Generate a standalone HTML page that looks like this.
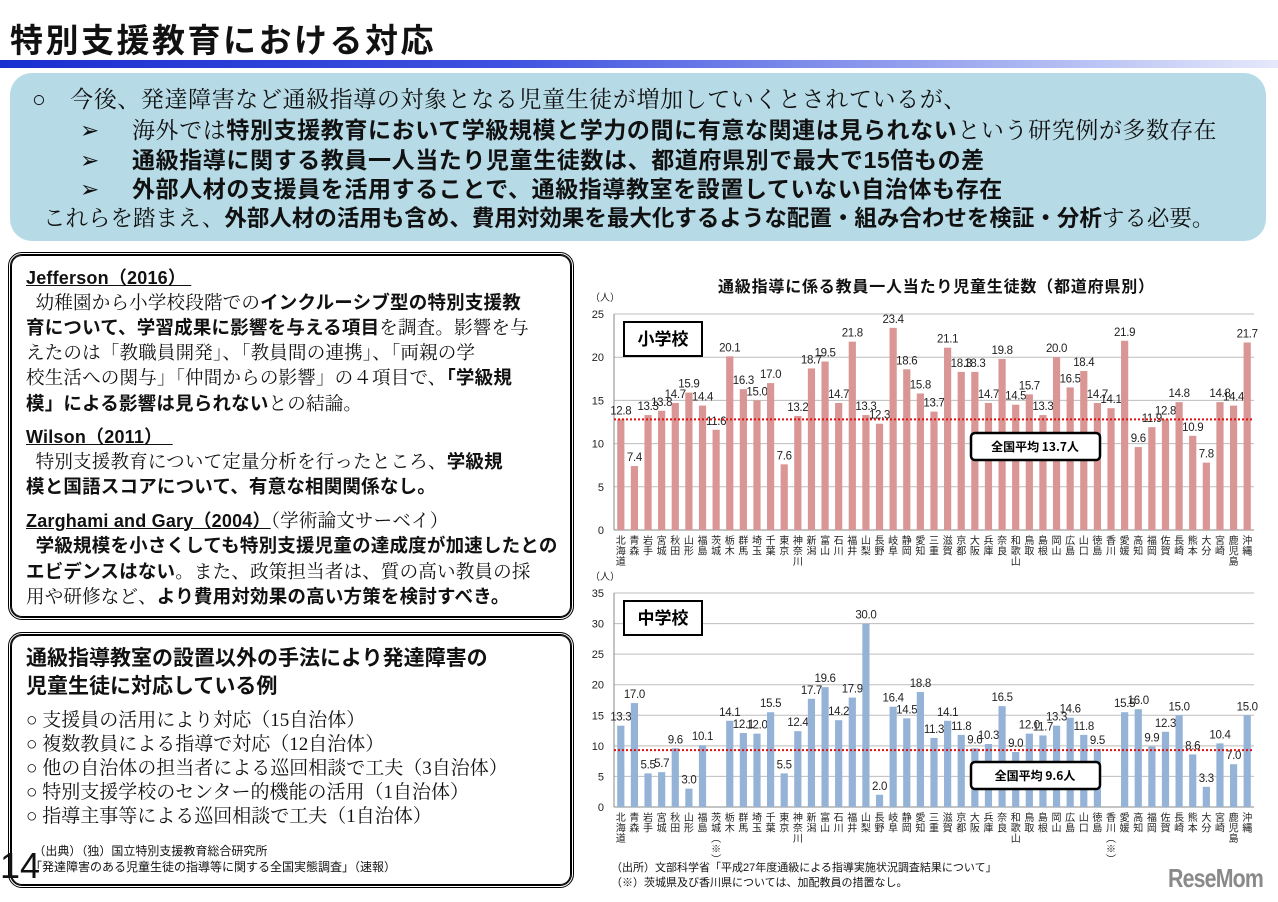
<!DOCTYPE html>
<html><head><meta charset="utf-8">
<style>
body{margin:0;width:1278px;height:902px;background:#fff;position:relative;overflow:hidden;font-family:"Liberation Sans","Noto Sans CJK JP",sans-serif;color:#111}
.abs{position:absolute}
.ser{font-family:"Liberation Serif","Noto Serif CJK JP",serif;font-weight:normal}
b{font-weight:bold;font-family:"Liberation Sans","Noto Sans CJK JP",sans-serif}
.box{position:absolute;border:3px double #000;border-radius:14px;box-shadow:0 0 0 1px #000 inset;}
</style></head><body>
<div class="abs" style="left:10px;top:14px;font-size:33px;font-weight:bold;letter-spacing:2.5px">特別支援教育における対応</div>
<div class="abs" style="left:0;top:60px;width:1278px;height:8px;background:linear-gradient(90deg,#1a2fd0,#3f52e0 40%,#b9c2f4 85%,#e6e9fb)"></div>
<div class="abs" style="left:10px;top:73px;width:1256px;height:168px;background:#b6dbe7;border-radius:22px;font-size:23px;line-height:30px;letter-spacing:0.6px">
 <div class="abs ser" style="left:22px;top:12px;white-space:nowrap">○　今後、発達障害など通級指導の対象となる児童生徒が増加していくとされているが、</div>
 <div class="abs" style="left:70px;top:42px;white-space:nowrap"><span class="ser">➢</span></div>
 <div class="abs ser" style="left:122px;top:42px;white-space:nowrap">海外では<b>特別支援教育において学級規模と学力の間に有意な関連は見られない</b>という研究例が多数存在</div>
 <div class="abs" style="left:70px;top:72px;white-space:nowrap"><span class="ser">➢</span></div>
 <div class="abs" style="left:122px;top:72px;white-space:nowrap"><b>通級指導に関する教員一人当たり児童生徒数は、都道府県別で最大で15倍もの差</b></div>
 <div class="abs" style="left:70px;top:101px;white-space:nowrap"><span class="ser">➢</span></div>
 <div class="abs" style="left:122px;top:101px;white-space:nowrap"><b>外部人材の支援員を活用することで、通級指導教室を設置していない自治体も存在</b></div>
 <div class="abs ser" style="left:33px;top:131px;white-space:nowrap;font-size:22.5px;letter-spacing:0">これらを踏まえ、<b>外部人材の活用も含め、費用対効果を最大化するような配置・組み合わせを検証・分析</b>する必要。</div>
</div>

<div class="box" style="left:8px;top:252px;width:560px;height:362px"></div>
<div class="abs" style="left:26px;top:266px;font-size:18.5px;line-height:24.5px;white-space:nowrap;letter-spacing:0.2px">
<div style="font-weight:bold;text-decoration:underline;font-size:18px">Jefferson（2016）&nbsp;</div>
<div class="ser">&nbsp;&nbsp;幼稚園から小学校段階での<b>インクルーシブ型の特別支援教</b></div>
<div class="ser"><b>育について、学習成果に影響を与える項目</b>を調査。影響を与</div>
<div class="ser">えたのは「教職員開発」、「教員間の連携」、「両親の学</div>
<div class="ser">校生活への関与」「仲間からの影響」の４項目で、<b>「学級規</b></div>
<div class="ser"><b>模」による影響は見られない</b>との結論。</div>
<div style="font-weight:bold;text-decoration:underline;font-size:18px;margin-top:8px">Wilson（2011）&nbsp;&nbsp;</div>
<div class="ser">&nbsp;&nbsp;特別支援教育について定量分析を行ったところ、<b>学級規</b></div>
<div class="ser"><b>模と国語スコアについて、有意な相関関係なし。</b></div>
<div style="margin-top:8px"><b style="text-decoration:underline;font-size:18px">Zarghami and Gary（2004）</b><span class="ser">（学術論文サーベイ）</span></div>
<div class="ser">&nbsp;&nbsp;<b>学級規模を小さくしても特別支援児童の達成度が加速したとの</b></div>
<div class="ser"><b>エビデンスはない</b>。また、政策担当者は、質の高い教員の採</div>
<div class="ser">用や研修など、<b>より費用対効果の高い方策を検討すべき。</b></div>
</div>

<div class="box" style="left:8px;top:632px;width:560px;height:250px"></div>
<div class="abs" style="left:26px;top:645px;font-size:21px;font-weight:bold;line-height:28px">通級指導教室の設置以外の手法により発達障害の<br>児童生徒に対応している例</div>
<div class="abs ser" style="left:26px;top:709px;font-size:19px;line-height:24px;white-space:nowrap">○ 支援員の活用により対応（15自治体）<br>○ 複数教員による指導で対応（12自治体）<br>○ 他の自治体の担当者による巡回相談で工夫（3自治体）<br>○ 特別支援学校のセンター的機能の活用（1自治体）<br>○ 指導主事等による巡回相談で工夫（1自治体）</div>
<div class="abs" style="left:30px;top:843px;font-size:12px;line-height:16px;white-space:nowrap">&nbsp;（出典）（独）国立特別支援教育総合研究所<br>「発達障害のある児童生徒の指導等に関する全国実態調査」（速報）</div>
<div class="abs" style="left:0;top:846px;font-size:36px;line-height:40px">14</div>

<div class="abs" style="left:718px;top:273px;font-size:16px;font-weight:bold;letter-spacing:0.8px">通級指導に係る教員一人当たり児童生徒数（都道府県別）</div>
<svg class="abs" id="charts" style="left:0;top:0" width="1278" height="902"></svg>
<div class="abs" style="left:611px;top:861px;font-size:11px;line-height:15px;white-space:nowrap">（出所）文部科学省「平成27年度通級による指導実施状況調査結果について」<br>（※）茨城県及び香川県については、加配教員の措置なし。</div>
<div class="abs" style="left:1168px;top:863px;font-size:26px;font-weight:bold;color:#8a8a8a;letter-spacing:-1px;transform:scaleX(0.82);transform-origin:left">ReseMom</div>

<script>
const prefs=["北海道","青森","岩手","宮城","秋田","山形","福島","茨城","栃木","群馬","埼玉","千葉","東京","神奈川","新潟","富山","石川","福井","山梨","長野","岐阜","静岡","愛知","三重","滋賀","京都","大阪","兵庫","奈良","和歌山","鳥取","島根","岡山","広島","山口","徳島","香川","愛媛","高知","福岡","佐賀","長崎","熊本","大分","宮崎","鹿児島","沖縄"];
const prefsJr=prefs.map(p=>p==="茨城"||p==="香川"?p+"︵※︶":p);
const elemValues=[12.8,7.4,13.3,13.8,14.7,15.9,14.4,11.6,20.1,16.3,15.0,17.0,7.6,13.2,18.7,19.5,14.7,21.8,13.3,12.3,23.4,18.6,15.8,13.7,21.1,18.3,18.3,14.7,19.8,14.5,15.7,13.3,20.0,16.5,18.4,14.7,14.1,21.9,9.6,11.9,12.8,14.8,10.9,7.8,14.8,14.4,21.7];
const jrValues=[13.3,17.0,5.5,5.7,9.6,3.0,10.1,null,14.1,12.1,12.0,15.5,5.5,12.4,17.7,19.6,14.2,17.9,30.0,2.0,16.4,14.5,18.8,11.3,14.1,11.8,9.6,10.3,16.5,9.0,12.0,11.7,13.3,14.6,11.8,9.5,null,15.5,16.0,9.9,12.3,15.0,8.6,3.3,10.4,7.0,15.0];
const elemTicks=[0,5,10,15,20,25];
const jrTicks=[0,5,10,15,20,25,30,35];
const elemAvgLine=12.8, jrAvgLine=9.3;
const elemAvgText="全国平均  13.7人", jrAvgText="全国平均  9.6人";

const NS="http://www.w3.org/2000/svg";
const svg=document.getElementById('charts');
function mk(t,a,txt){const e=document.createElementNS(NS,t);for(const k in a)e.setAttribute(k,a[k]);if(txt!=null)e.textContent=txt;svg.appendChild(e);return e;}
function drawChart(o){
 const x0=614,x1=1254,n=o.cats.length,step=(x1-x0)/n;
 const y=v=>o.yBot-(v/o.max)*(o.yBot-o.yTop);
 const xc=i=>x0+(i+0.5)*step;
 o.ticks.forEach(t=>{
  const g=mk('line',{x1:x0,x2:x1,y1:y(t),y2:y(t),stroke:t===0?'#888':'#bdbdbd','stroke-width':1});
  
  const l=mk('text',{x:604,y:y(t)+4,'text-anchor':'end','font-size':11,fill:'#222','font-family':'Liberation Sans,sans-serif'},String(t));
  
 });
 mk('line',{x1:x0,x2:x0,y1:o.yTop,y2:o.yBot,stroke:'#888'});
 const u=mk('text',{x:590,y:o.yTop-13,'font-size':10,fill:'#222','font-family':'Noto Sans CJK JP,sans-serif'},'（人）');
 
 o.vals.forEach((v,i)=>{
  if(v!=null){
   const r=mk('rect',{x:xc(i)-3.6,y:y(v),width:7.2,height:o.yBot-y(v),fill:o.color});
   
   
   const t=mk('text',{x:xc(i),y:y(v)-5,'text-anchor':'middle','font-size':11.5,fill:'#222','font-family':'Liberation Sans,sans-serif','letter-spacing':'-0.3'},v.toFixed(1));
   
   
  }
  [...o.cats[i]].forEach((c,k)=>{
   const ct=mk('text',{x:xc(i),y:o.yBot+14+k*10.5,'text-anchor':'middle','font-size':10,fill:'#222','font-family':'Noto Sans CJK JP,sans-serif'},c);
   
   
  });
 });
 const al=mk('line',{x1:x0,x2:x1,y1:y(o.avg),y2:y(o.avg),stroke:'#e01010','stroke-width':2,'stroke-dasharray':'2,2'});
 
 const b=mk('rect',{x:624,y:o.yTop+8,width:78,height:34,fill:'#fff',stroke:'#000','stroke-width':2});
 
 mk('text',{x:663,y:o.yTop+31,'text-anchor':'middle','font-size':17,'font-weight':'bold','font-family':'Noto Sans CJK JP,sans-serif'},o.label);
 const ab=mk('rect',{x:971,y:o.avgBoxY,width:129,height:27,rx:4,fill:'#fff',stroke:'#000','stroke-width':2.5});
 
 mk('text',{x:1035,y:o.avgBoxY+18,'text-anchor':'middle','font-size':12,'font-weight':'bold','font-family':'Noto Sans CJK JP,sans-serif'},o.avgText);
}
drawChart({cats:prefs,vals:elemValues,ticks:elemTicks,max:25,yTop:314,yBot:530,color:'#d99694',avg:elemAvgLine,label:'小学校',avgBoxY:433,avgText:elemAvgText});
drawChart({cats:prefsJr,vals:jrValues,ticks:jrTicks,max:35,yTop:593,yBot:807,color:'#95b3d7',avg:jrAvgLine,label:'中学校',avgBoxY:762,avgText:jrAvgText});
</script>
</body></html>
